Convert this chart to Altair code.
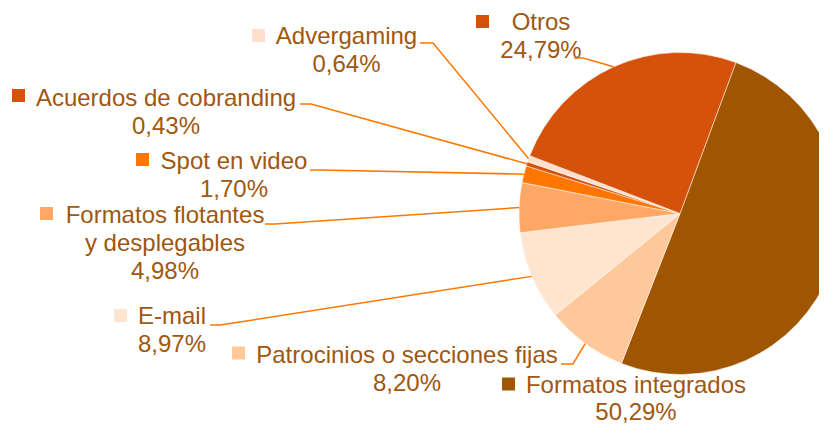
import math
import altair as alt
import pandas as pd

# ---- data ----
categories = ["Formatos integrados", "Patrocinios o secciones fijas", "E-mail",
              "Formatos flotantes y desplegables", "Spot en video",
              "Acuerdos de cobranding", "Advergaming", "Otros"]
values = [50.29, 8.20, 8.97, 4.98, 1.70, 0.43, 0.64, 24.79]
name_lines = [["Formatos integrados"], ["Patrocinios o secciones fijas"], ["E-mail"],
              ["Formatos flotantes", "y desplegables"], ["Spot en video"],
              ["Acuerdos de cobranding"], ["Advergaming"], ["Otros"]]
colors = ["#A05500", "#FFC89A", "#FFE4CF", "#FFA866", "#FF7700",
          "#D4520A", "#FFE0CC", "#D4520A"]

# ---- layout (image pixel coords) ----
OFF = 8
PIE_CX, PIE_CY, PIE_R = 680, 213.5, 161
START_DEG = 20.3
TEXT_COLOR = "#A0570F"
LINE_COLOR = "#FF7700"
label_cx = [636, 407, 172, 165, 234, 166, 346.5, 541]
label_y0 = [393, 363, 324, 223, 169, 106, 44, 30]
line_step = [27, 28, 28, 28, 28, 28, 28, 28]
marker_x = [508.5, 238.5, 120.5, 46.5, 142.5, 18.5, 258.5, 482.5]
marker_y = [384, 353, 315.5, 213.5, 159.5, 95.5, 35.5, 21.5]
leader_start = [None, (561, 364), (210, 325), (265, 224), (310, 170), (300, 104), (420, 43), (574, 58)]
leader_elbow = [None, (573, 364), (220, 325), (275, 224), (320, 170), (311, 104), (433, 43), (583, 58)]

total = sum(values)
pie_df = pd.DataFrame({"cat": categories, "value": values, "idx": list(range(len(values)))})

color_scale = alt.Scale(domain=categories, range=colors)
a0 = math.radians(START_DEG)

pie = alt.Chart(pie_df).mark_arc(outerRadius=PIE_R, clip=True, stroke="#ffffff", strokeWidth=0.5).encode(
    theta=alt.Theta("value:Q", stack=True, scale=alt.Scale(domain=[0, total], range=[a0, a0 + 2 * math.pi])),
    color=alt.Color("cat:N", scale=color_scale, legend=None),
    order=alt.Order("idx:Q", sort="ascending"),
    x=alt.value(PIE_CX - OFF),
    y=alt.value(PIE_CY - OFF),
)

# text rows
trows = []
for i, cat in enumerate(categories):
    lines = name_lines[i] + [f"{values[i]:.2f}".replace(".", ",") + "%"]
    for j, t in enumerate(lines):
        trows.append({"t": t, "x": label_cx[i] - OFF, "y": label_y0[i] + j * line_step[i] - OFF})
text_df = pd.DataFrame(trows)
texts = alt.Chart(text_df).mark_text(
    align="center", baseline="alphabetic", fontSize=24, font="Liberation Sans", color=TEXT_COLOR
).encode(
    x=alt.X("x:Q", scale=None), y=alt.Y("y:Q", scale=None), text="t:N"
)

mk_df = pd.DataFrame({"cat": categories,
                      "x": [v - OFF for v in marker_x],
                      "y": [v - OFF for v in marker_y]})
markers = alt.Chart(mk_df).mark_square(size=169, opacity=1, strokeWidth=0).encode(
    x=alt.X("x:Q", scale=None), y=alt.Y("y:Q", scale=None),
    color=alt.Color("cat:N", scale=color_scale, legend=None),
)

# leader lines: to slice mid-angle on pie edge
lrows = []
cum = 0.0
for i, cat in enumerate(categories):
    mid = START_DEG + 360.0 * (cum + values[i] / 2) / total
    cum += values[i]
    if leader_start[i] is None:
        continue
    ex = PIE_CX + PIE_R * math.sin(math.radians(mid))
    ey = PIE_CY - PIE_R * math.cos(math.radians(mid))
    pts = [leader_start[i], leader_elbow[i], (ex, ey)]
    for k, (px, py) in enumerate(pts):
        lrows.append({"cat": cat, "k": k, "x": px - OFF, "y": py - OFF})
line_df = pd.DataFrame(lrows)
leaders = alt.Chart(line_df).mark_line(color=LINE_COLOR, strokeWidth=1.5).encode(
    x=alt.X("x:Q", scale=None), y=alt.Y("y:Q", scale=None),
    detail="cat:N", order=alt.Order("k:Q"),
)

chart = alt.layer(pie, leaders, markers, texts).properties(
    width=811, height=417, padding=0, autosize="none", background="#ffffff"
).configure_view(stroke=None)

chart.save("out.html", embed_options={"renderer": "svg", "actions": False})
